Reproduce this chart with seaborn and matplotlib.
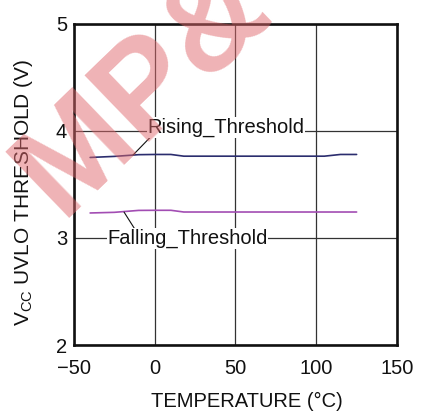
import pandas as pd
import matplotlib
matplotlib.use("Agg")
import matplotlib.pyplot as plt
import seaborn as sns

# values
temperature = [-40, -25, -10, 0, 10, 18, 50, 105, 115, 125]
rising = [3.750, 3.760, 3.776, 3.778, 3.778, 3.762, 3.762, 3.762, 3.778, 3.778]
falling = [3.232, 3.238, 3.256, 3.257, 3.257, 3.241, 3.241, 3.241, 3.241, 3.241]
x_ticks = [-50, 0, 50, 100, 150]
y_ticks = [2, 3, 4, 5]

df = pd.DataFrame({
    "temp": temperature * 2,
    "vcc": rising + falling,
    "curve": ["Rising_Threshold"] * len(temperature) + ["Falling_Threshold"] * len(temperature),
})

sns.set_theme(style="white")
plt.rcParams["font.family"] = ["Liberation Sans", "DejaVu Sans"]
plt.rcParams["mathtext.fontset"] = "custom"
plt.rcParams["mathtext.rm"] = "Liberation Sans"

fig = plt.figure(figsize=(4.27, 4.19), dpi=100)
ax = fig.add_axes([0.1733, 0.1766, 0.7564, 0.7673])

sns.lineplot(data=df, x="temp", y="vcc", hue="curve",
             palette={"Rising_Threshold": "#2b2d6e", "Falling_Threshold": "#a24db3"},
             linewidth=1.2, legend=False, ax=ax, zorder=3)

ax.set_xlim(-50, 150)
ax.set_ylim(2, 5)
ax.set_xticks(x_ticks)
ax.set_yticks(y_ticks)
ax.grid(True, color="#333333", linewidth=0.9)
ax.tick_params(length=0, labelsize=14.5, colors="#111111")
ax.tick_params(axis="x", pad=10)
ax.tick_params(axis="y", pad=5)
for s in ax.spines.values():
    s.set_visible(True)
    s.set_color("#111111")
    s.set_linewidth(1.9)

ax.set_xlabel("TEMPERATURE (°C)", fontsize=14.5, color="#111111")
ax.set_ylabel(r"V$_{\mathregular{CC}}$ UVLO THRESHOLD (V)", fontsize=15, color="#111111")
ax.xaxis.set_label_coords(0.536, -0.147)
ax.yaxis.set_label_coords(-0.121, 0.476)

box = dict(facecolor="white", edgecolor="none", pad=0.5)
line_kw = dict(arrowstyle="-", color="#111111", linewidth=0.8, shrinkA=0, shrinkB=0)
ax.annotate("Rising_Threshold", xy=(-13.5, 3.772), xytext=(44, 4.03),
            ha="center", va="center", fontsize=14.5, color="#111111", bbox=box,
            arrowprops=dict(relpos=(0.02, 0.0), **line_kw), zorder=4)
ax.annotate("Falling_Threshold", xy=(-19, 3.24), xytext=(20.3, 2.995),
            ha="center", va="center", fontsize=14.5, color="#111111", bbox=box,
            arrowprops=dict(relpos=(0.17, 1.0), **line_kw), zorder=4)

# watermark
fig.text(0.142, 0.478, "MP&", rotation=44, rotation_mode="anchor", ha="left", va="baseline",
         fontsize=96, fontweight="bold", color="#e0686d", alpha=0.5, zorder=10)

fig.savefig("out.png", dpi=100)
